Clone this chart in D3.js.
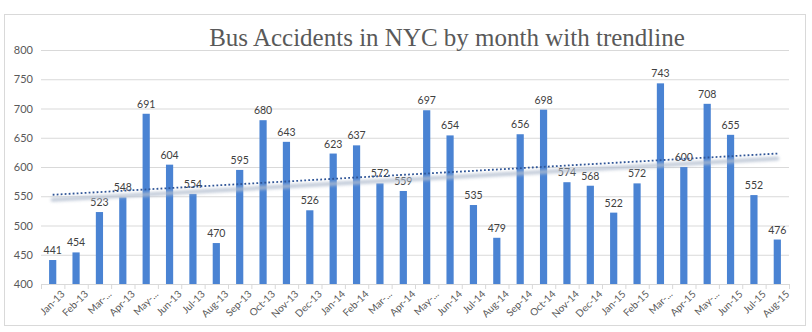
<!DOCTYPE html>
<html><head><meta charset="utf-8">
<script src="https://cdn.jsdelivr.net/npm/d3@7"></script>
<style>body{margin:0;background:#fff}svg{display:block}</style>
</head><body>
<script>
const months = ["Jan-13","Feb-13","Mar-...","Apr-13","May-...","Jun-13","Jul-13","Aug-13","Sep-13","Oct-13","Nov-13","Dec-13",
"Jan-14","Feb-14","Mar-...","Apr-14","May-...","Jun-14","Jul-14","Aug-14","Sep-14","Oct-14","Nov-14","Dec-14",
"Jan-15","Feb-15","Mar-...","Apr-15","May-...","Jun-15","Jul-15","Aug-15"];
const accidents = [441,454,523,548,691,604,554,470,595,680,643,526,
623,637,572,559,697,654,535,479,656,698,574,568,
522,572,743,600,708,655,552,476];
const yTicks = [400,450,500,550,600,650,700,750,800];
const title = "Bus Accidents in NYC by month with trendline";

const W = 812, H = 332;
const svg = d3.select("body").append("svg").attr("width", W).attr("height", H);
const defs = svg.append("defs");
defs.append("filter").attr("id","blur").attr("x","-5%").attr("y","-200%").attr("width","110%").attr("height","500%")
  .append("feGaussianBlur").attr("stdDeviation", 1.6);

svg.append("rect").attr("x",4.5).attr("y",14.5).attr("width",801).attr("height",311)
  .attr("fill","#fff").attr("stroke","#d9d9d9");

const idx = d3.range(months.length);
const xb = d3.scaleBand().domain(idx).range([41, 789]);
const y = d3.scaleLinear().domain([400, 800]).range([284, 50]);
const cx = i => xb(i) + xb.bandwidth()/2;

// gridlines
svg.append("g").selectAll("line").data(yTicks.slice(1)).join("line")
  .attr("x1",41).attr("x2",789).attr("y1",d=>y(d)+0.5).attr("y2",d=>y(d)+0.5)
  .attr("stroke","#d9d9d9");

// y labels
const ya = svg.append("g").attr("transform","translate(41,0)")
  .call(d3.axisLeft(y).tickValues(yTicks).tickSize(0).tickPadding(8));
ya.select(".domain").remove();
ya.selectAll("text").attr("font-family","Lato, 'Open Sans', sans-serif").attr("font-size",11).attr("fill","#595959");

// bars
svg.append("g").selectAll("rect").data(accidents).join("rect")
  .attr("x",(d,i)=>cx(i) - 3.6)
  .attr("width",7.2)
  .attr("y",d=>y(d)).attr("height",d=>y(400)-y(d))
  .attr("fill","#4a83d3");

// data labels
svg.append("g").selectAll("text").data(accidents).join("text")
  .attr("x",(d,i)=>cx(i))
  .attr("y",d=>y(d)-6)
  .attr("text-anchor","middle")
  .attr("font-family","Lato, 'Open Sans', sans-serif").attr("font-size",10.5).attr("fill","#404040")
  .text(d=>d);

// x axis
const xa = svg.append("g").attr("transform","translate(0,284)")
  .call(d3.axisBottom(xb).tickSize(0).tickPadding(6).tickFormat(i=>months[i]));
xa.select(".domain").attr("stroke","#d9d9d9").attr("d","M41,0.5H789");
xa.selectAll("text")
  .attr("font-family","Lato, 'Open Sans', sans-serif").attr("font-size",10).attr("fill","#595959")
  .attr("text-anchor","end")
  .attr("transform","translate(6,4) rotate(-45)")
  .attr("dy","0.35em");
// boundary ticks
svg.append("g").selectAll("line").data(d3.range(months.length+1)).join("line")
  .attr("x1",i=>41 + i*xb.step()+0.5).attr("x2",i=>41 + i*xb.step()+0.5)
  .attr("y1",284).attr("y2",289).attr("stroke","#d9d9d9");

// trendline (linear least squares)
const n = accidents.length;
const xs = d3.range(1, n+1);
const mx = d3.mean(xs), my = d3.mean(accidents);
const slope = d3.sum(xs, (v,i)=>(v-mx)*(accidents[i]-my)) / d3.sum(xs, v=>(v-mx)*(v-mx));
const icpt = my - slope*mx;
const t0 = icpt + slope*1, t1 = icpt + slope*n;
svg.append("line").attr("x1",cx(0)).attr("x2",cx(n-1)).attr("y1",y(t0)+5).attr("y2",y(t1)+5)
  .attr("stroke","#b4bfd0").attr("stroke-width",4).attr("stroke-linecap","round").attr("opacity",0.8)
  .attr("filter","url(#blur)");
svg.append("line").attr("x1",cx(0)).attr("x2",cx(n-1)).attr("y1",y(t0)).attr("y2",y(t1))
  .attr("stroke","#2f5597").attr("stroke-width",1.8).attr("stroke-dasharray","1.8,2.2");

// title
svg.append("text").attr("x",447).attr("y",46).attr("text-anchor","middle")
  .attr("font-family","'Liberation Serif', 'DejaVu Serif', serif").attr("font-size",25).attr("fill","#595959")
  .text(title);
</script>
</body></html>
